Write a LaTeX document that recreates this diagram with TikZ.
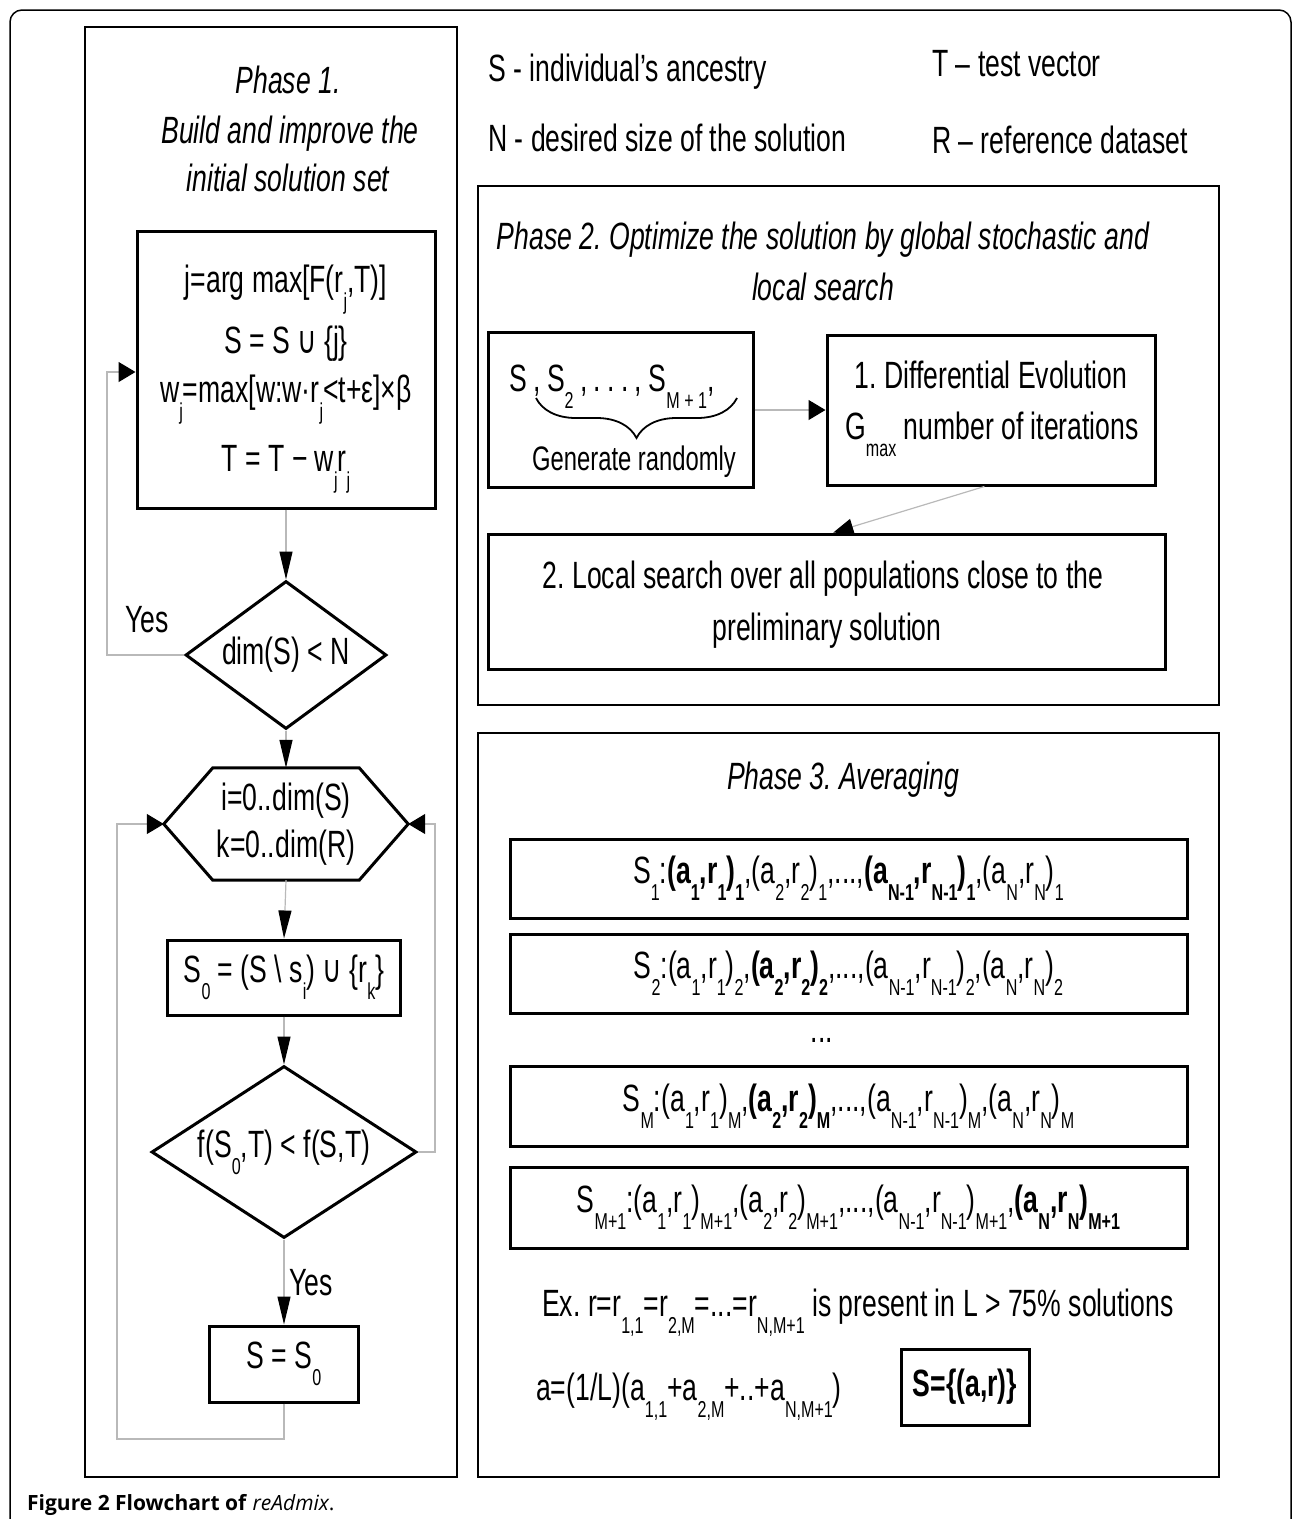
\documentclass[tikz,border=0pt]{standalone}
\usepackage{fontspec}
\setmainfont[FakeStretch=0.70]{Liberation Sans}
\newfontfamily\dvfont[FakeStretch=0.70]{DejaVu Sans}
\newfontfamily\capfont{Open Sans}
\usetikzlibrary{arrows.meta,shapes.geometric,decorations.pathreplacing,calc}
\newcommand\sbs[1]{\raisebox{-0.45em}{\fontsize{23}{23}\selectfont #1}}
\newcommand\uni{{\dvfont ∪}}
\frenchspacing
\begin{document}
\begin{tikzpicture}[x=1pt,y=-1pt,
  every node/.style={font=\fontsize{38}{44}\selectfont, inner sep=0pt},
  box/.style={draw, line width=3pt},
  conn/.style={draw=gray!55, line width=1.2pt},
  vtip/.style={-{Triangle[length=28pt,width=13pt,color=black]}},
  htip/.style={-{Triangle[length=17pt,width=20pt,color=black]}},
  dtip/.style={-{Triangle[length=20pt,width=16pt,color=black]}},
  ttl/.style={font=\itshape\fontsize{38}{44}\selectfont},
  small/.style={font=\fontsize{34}{40}\selectfont},
]
\useasboundingbox (0,0) rectangle (1292,1519);
% outer frame
\draw[line width=1.5pt, rounded corners=12pt] (10,1540) -- (10,10) -- (1291,10) -- (1291,1540);

% ---------- Phase 1 ----------
\node[draw, line width=2.5pt, minimum width=372, minimum height=1450] (ph1) at (271,752) {};
\node[ttl, anchor=base] (t1a) at (288,93) {Phase 1.};
\node[ttl, anchor=base] (t1b) at (290,143) {Build and improve the};
\node[ttl, anchor=base] (t1c) at (288,191) {initial solution set};

\node[box, minimum width=298, minimum height=277] (b1) at (286,369.5) {};
\node[anchor=base] (b1l1) at (286,292) {j=arg max[F(r\sbs{j},T)]};
\node[anchor=base] (b1l2) at (286,353) {S = S \uni{} \{j\}};
\node[anchor=base] (b1l3) at (286,402) {w\sbs{j}=max[w:w·r\sbs{j}<t+ε]×β};
\node[anchor=base] (b1l4) at (286,471) {T = T − w\sbs{j}r\sbs{j}};

\node[draw, diamond, line width=3pt, minimum width=201, minimum height=148, aspect=1.36] (d1) at (286,655) {dim(S) < N};
\node (yes1) at (147,620) {Yes};

\node[minimum width=146, minimum height=112, align=center, font=\fontsize{38}{47}\selectfont] (hx) at (286,824) {i=0..dim(S)\\k=0..dim(R)};
\coordinate (hxL) at ($(hx.west)+(-49,0)$);
\coordinate (hxR) at ($(hx.east)+(49,0)$);
\draw[line width=3pt] (hx.north west) -- (hx.north east) -- (hxR) -- (hx.south east) -- (hx.south west) -- (hxL) -- cycle;

\node[box, minimum width=233, minimum height=75] (s0) at (284,977.5) {S\sbs{0} = (S \textbackslash{} s\sbs{i}) \uni{} \{r\sbs{k}\}};

\node[draw, diamond, line width=3pt, minimum width=265, minimum height=172, aspect=1.54] (d2) at (284,1152) {f(S\sbs{0},T) < f(S,T)};
\node[anchor=west] (yes2) at (289,1283) {Yes};

\node[box, minimum width=149, minimum height=76] (sb) at (284,1364) {S = S\sbs{0}};

\coordinate (loopA) at (107,372);
\coordinate (loopR) at (435,824);
\coordinate (loopB) at (117,1439);

\draw[conn, vtip] (b1.south) -- (d1.north);
\draw[conn, htip] (d1.west) -| (loopA) -- (b1.west |- loopA);
\draw[conn, vtip] (d1.south) -- (hx.north);
\draw[conn, vtip] (hx.south) -- (s0.north);
\draw[conn, vtip] (s0.south) -- (d2.north);
\draw[conn, htip] (d2.east) -| (loopR) -- (hxR);
\draw[conn, vtip] (d2.south) -- (sb.north);
\draw[conn, htip] (sb.south) |- (loopB) |- (hxL);

% ---------- Legend ----------
\node[anchor=base west] (lgS) at (488,81) {S - individual’s ancestry};
\node[anchor=base west] (lgN) at (488,151) {N - desired size of the solution};
\node[anchor=base west] (lgT) at (932,76) {T – test vector};
\node[anchor=base west] (lgR) at (932,153) {R – reference dataset};

% ---------- Phase 2 ----------
\node[draw, line width=2.5pt, minimum width=741, minimum height=519] (ph2) at (848.5,445.5) {};
\node[ttl, anchor=base] (t2a) at (823,249) {Phase 2. Optimize the solution by global stochastic and};
\node[ttl, anchor=base] (t2b) at (823,300) {local search};

\node[box, minimum width=265, minimum height=155] (bA) at (620.5,410) {};
\node[anchor=base west] (bAt) at (509,391) {S\,,\,S\sbs{2}\,,\,.\,.\,.\,,\,S\sbs{M + 1},};
\draw[line width=1.8pt, decorate, decoration={brace, mirror, amplitude=40pt}] (536,398) -- (737,398);
\node[small, anchor=base] (bAg) at (634,470) {Generate randomly};

\node[box, minimum width=328, minimum height=150] (bB) at (991,410) {};
\node[anchor=base] (bBa) at (991,388) {1. Differential Evolution};
\node[anchor=base west] (bBb) at (845,439) {G\sbs{max} number of iterations};

\node[box, minimum width=677, minimum height=135] (bC) at (826.5,601.5) {};
\node[anchor=base] (bCa) at (823,588) {2. Local search over all populations close to the};
\node[anchor=base] (bCb) at (827,640) {preliminary solution};

\draw[conn, htip] (bA.east) -- (bB.west);
\draw[conn, dtip] ($(bB.south west)!0.48!(bB.south east)$) -- ($(bC.north west)!0.51!(bC.north east)$);

% ---------- Phase 3 ----------
\node[draw, line width=2.5pt, minimum width=741, minimum height=744] (ph3) at (848.5,1105) {};
\node[ttl, anchor=base] (t3) at (843,789) {Phase 3. Averaging};

\node[box, minimum width=677, minimum height=79] (r1) at (848.5,878.5)
 {S\sbs{1}:\textbf{(a\sbs{1},r\sbs{1})\sbs{1}},(a\sbs{2},r\sbs{2})\sbs{1},...,\textbf{(a\sbs{N-1},r\sbs{N-1})\sbs{1}},(a\sbs{N},r\sbs{N})\sbs{1}};
\node[box, minimum width=677, minimum height=79] (r2) at (848.5,973.5)
 {S\sbs{2}:(a\sbs{1},r\sbs{1})\sbs{2},\textbf{(a\sbs{2},r\sbs{2})\sbs{2}},...,(a\sbs{N-1},r\sbs{N-1})\sbs{2},(a\sbs{N},r\sbs{N})\sbs{2}};
\node (dots) at (822,1040) {...};
\node[box, minimum width=677, minimum height=80] (r3) at (848.5,1106)
 {S\sbs{M}:(a\sbs{1},r\sbs{1})\sbs{M},\textbf{(a\sbs{2},r\sbs{2})\sbs{M}},...,(a\sbs{N-1},r\sbs{N-1})\sbs{M},(a\sbs{N},r\sbs{N})\sbs{M}};
\node[box, minimum width=677, minimum height=81] (r4) at (848.5,1207.5)
 {S\sbs{M+1}:(a\sbs{1},r\sbs{1})\sbs{M+1},(a\sbs{2},r\sbs{2})\sbs{M+1},...,(a\sbs{N-1},r\sbs{N-1})\sbs{M+1},\textbf{(a\sbs{N},r\sbs{N})\sbs{M+1}}};

\node[anchor=base west] (ex) at (542,1316) {Ex. r=r\sbs{1,1}=r\sbs{2,M}=...=r\sbs{N,M+1} is present in L > 75\% solutions};
\node[anchor=base west] (avg) at (536,1400) {a=(1/L)(a\sbs{1,1}+a\sbs{2,M}+..+a\sbs{N,M+1})};
\node[box, minimum width=128, minimum height=76, font=\bfseries\fontsize{38}{44}\selectfont] (res) at (965,1387) {S=\{(a,r)\}};

% caption
\node[anchor=base west, font=\capfont\fontsize{21}{21}\selectfont] (cap) at (27,1510) {\textbf{Figure 2 Flowchart of} \textit{reAdmix}.};
\end{tikzpicture}
\end{document}
